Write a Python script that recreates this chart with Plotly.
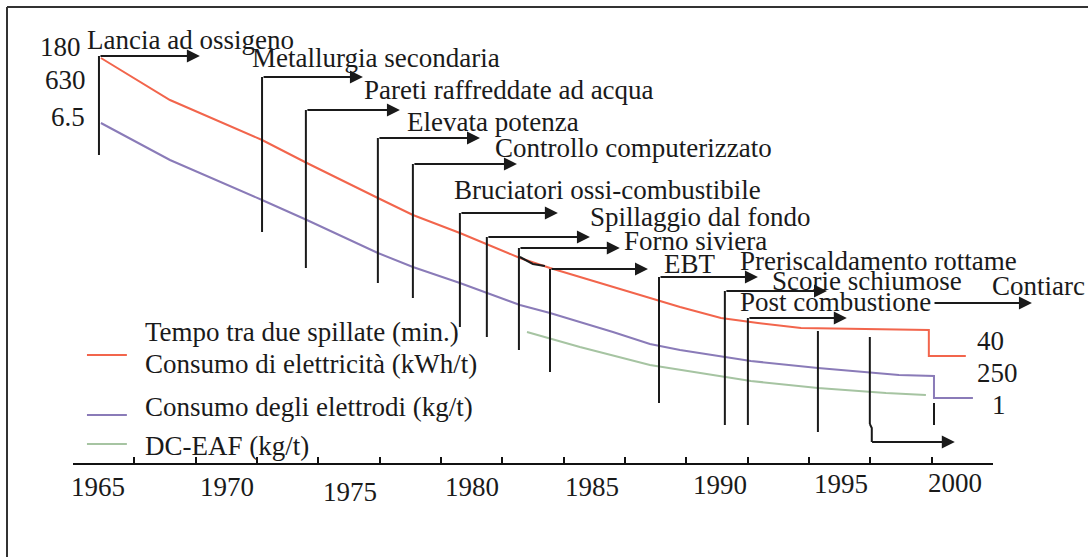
import plotly.graph_objects as go

# ---------------- DATA (y = relative index) ----------------
years_elec = [1965.12, 1967.94, 1971.70, 1973.53, 1976.43, 1977.86, 1979.78, 1982.23,
              1983.46, 1986.03, 1988.77, 1990.44, 1991.95, 1993.71, 1998.93, 1998.93, 2000.44]
elec_index = [101.5, 91.0, 81.0, 75.25, 66.5, 62.25, 57.75, 51.5,
              49.0, 44.25, 39.25, 36.5, 35.25, 34.0, 33.5, 27.0, 27.0]

years_electrode = [1965.12, 1967.94, 1971.70, 1973.53, 1976.43, 1977.86, 1979.78, 1982.23,
                   1983.46, 1986.03, 1987.54, 1988.77, 1991.66, 1994.40, 1997.71, 1999.14,
                   1999.14, 2000.73]
electrode_index = [85.25, 76.0, 66.0, 61.0, 52.75, 49.25, 45.25, 39.75,
                   37.75, 33.0, 30.0, 28.5, 25.75, 24.0, 22.25, 22.0,
                   16.5, 16.5]

years_dceaf = [1982.52, 1984.68, 1987.54, 1988.77, 1991.66, 1994.40, 1997.18, 1998.81]
dceaf_index = [33.0, 29.25, 24.75, 23.5, 20.75, 19.0, 17.75, 17.25]

milestone_names = ["Lancia ad ossigeno", "Metallurgia secondaria", "Pareti raffreddate ad acqua",
                   "Elevata potenza", "Controllo computerizzato", "Bruciatori ossi-combustibile",
                   "Spillaggio dal fondo", "Forno siviera", "EBT", "Preriscaldamento rottame",
                   "Scorie schiumose", "Post combustione"]
milestone_years = [1965.04, 1971.70, 1973.49, 1976.43, 1977.86, 1979.78,
                   1980.88, 1982.19, 1983.46, 1987.91, 1990.60, 1991.54]
milestone_arrow_end = [1969.16, 1975.82, 1977.33, 1980.60, 1982.11, 1983.78,
                       1985.09, 1986.31, 1987.46, 1991.95, 1994.77, 1995.58]

contiarc_name = "Contiarc"
contiarc_years = [1999.10, 2003.14]

extra_marker_years = [1994.40, 1996.52, 1999.14]

tick_label_years = [1965, 1970, 1975, 1980, 1985, 1990, 1995, 2000]
start_values = ["180", "630", "6.5"]
end_values = ["40", "250", "1"]
legend_texts = ["Tempo tra due spillate (min.)", "Consumo di elettricità (kWh/t)",
                "Consumo degli elettrodi (kg/t)", "DC-EAF (kg/t)"]

# ---------------- LAYOUT GEOMETRY (positions / styles) ----------------
FONT = "Liberation Serif"
FS = 27
INK = "#1a1a1a"
RED, PURPLE, GREEN = "#f2654c", "#8a7bb8", "#a6c4a2"

bracket_top = [102.0, 96.75, 88.5, 81.5, 75.0, 62.75, 56.75, 54.0, 48.75, 46.75, 43.25, 36.5]
bracket_bottom = [77.25, 58.0, 49.0, 45.25, 41.5, 34.25, 31.75, 28.5, 23.0, 15.25, 9.75, 9.75]
label_x = [1964.47, 1971.21, 1975.78, 1977.54, 1981.13, 1979.45,
           1985.01, 1986.40, 1988.03, 1991.13, 1992.44, 1991.13]
label_y = [106.0, 101.5, 93.5, 85.5, 79.0, 68.5, 61.75, 55.75, 50.0, 50.75, 45.75, 40.5]

extra_top = [33.25, 31.75, 15.25]
extra_bottom = [8.0, 10.0, 9.75]

tick_label_y = [-5.75, -5.75, -7.0, -5.75, -5.75, -5.25, -5.0, -4.75]
tick_label_xshift = [0, 7, 7, 7, 4, 10, 8, 0]

X_RANGE = [1963.98, 2001.55]
Y_RANGE = [-23.25, 116.0]

fig = go.Figure()

# series curves
fig.add_trace(go.Scatter(x=years_elec, y=elec_index, mode="lines",
                         line=dict(color=RED, width=2), hoverinfo="skip"))
fig.add_trace(go.Scatter(x=years_electrode, y=electrode_index, mode="lines",
                         line=dict(color=PURPLE, width=2), hoverinfo="skip"))
fig.add_trace(go.Scatter(x=years_dceaf, y=dceaf_index, mode="lines",
                         line=dict(color=GREEN, width=2), hoverinfo="skip"))

# milestone vertical stems
vx, vy = [], []
for yr, t, b in zip(milestone_years, bracket_top, bracket_bottom):
    vx += [yr, yr, None]
    vy += [b, t, None]
for yr, t, b in zip(extra_marker_years, extra_top, extra_bottom):
    vx += [yr, yr, None]
    vy += [b, t, None]
# small jog at the bottom of the 1996 stem
vx += [extra_marker_years[1], extra_marker_years[1] + 0.08, extra_marker_years[1] + 0.08, None]
vy += [extra_bottom[1], extra_bottom[1] - 1.0, 5.5, None]
# little leader near "Forno siviera"
vx += [1982.23, 1982.76, 1983.25]
vy += [51.75, 50.0, 49.5]
fig.add_trace(go.Scatter(x=vx, y=vy, mode="lines", line=dict(color=INK, width=2),
                         hoverinfo="skip"))

# legend swatches
sw_x = [1964.55, 1966.18]
for col, yy in zip([RED, PURPLE, GREEN], [27.25, 12.25, 5.0]):
    fig.add_trace(go.Scatter(x=sw_x, y=[yy, yy], mode="lines",
                             line=dict(color=col, width=2), hoverinfo="skip"))

ann = []

def arrow(x0, x1, y):
    ann.append(dict(x=x1, y=y, ax=x0, ay=y, xref="x", yref="y", axref="x", ayref="y",
                    text="", showarrow=True, arrowhead=2, arrowsize=1.3, arrowwidth=2,
                    arrowcolor=INK, standoff=0, startstandoff=0))

def label(x, y, txt, xanchor="left", size=FS, xshift=0):
    ann.append(dict(x=x, y=y, xref="x", yref="y", text=txt, showarrow=False,
                    xanchor=xanchor, yanchor="middle", xshift=xshift,
                    font=dict(family=FONT, size=size, color=INK)))

for name, yr, end, t, lx, ly in zip(milestone_names, milestone_years, milestone_arrow_end,
                                    bracket_top, label_x, label_y):
    arrow(yr, end, t)
    label(lx, ly, name)

arrow(contiarc_years[0], contiarc_years[1], 40.25)
label(2001.42, 44.5, contiarc_name)
arrow(1996.55, 1999.99, 5.5)

# start / end values
for txt, x, y in zip(start_values, [1964.39, 1964.59, 1964.55], [104.25, 96.0, 86.75]):
    label(x, y, txt, xanchor="right")
for txt, x, y in zip(end_values, [2000.81, 2000.81, 2001.42], [30.75, 22.75, 14.75]):
    label(x, y, txt)

# legend texts
for txt, y in zip(legend_texts, [33.0, 25.0, 14.25, 4.5]):
    label(1966.84, y, txt)

# year labels
for yr, y, xs in zip(tick_label_years, tick_label_y, tick_label_xshift):
    label(yr, y, str(yr), xanchor="center", xshift=xs)

W, H = 1088, 557
fig.update_layout(
    width=W, height=H, margin=dict(l=0, r=0, t=0, b=0),
    paper_bgcolor="white", plot_bgcolor="white", showlegend=False,
    annotations=ann,
    xaxis=dict(domain=[73 / W, 993 / W], range=X_RANGE, anchor="free",
               position=(H - 464) / H, showline=True, linecolor="#111", linewidth=2,
               ticks="inside", ticklen=6, tickwidth=2, tickcolor="#111",
               tickmode="linear", tick0=X_RANGE[0], dtick=(X_RANGE[1] - X_RANGE[0]) / 15,
               showticklabels=False, showgrid=False, zeroline=False, fixedrange=True),
    yaxis=dict(domain=[0, 1], range=Y_RANGE, visible=False, showgrid=False,
               zeroline=False, fixedrange=True),
    shapes=[
        dict(type="line", xref="paper", yref="paper", x0=7 / W, x1=7 / W, y0=0, y1=1 - 7 / H,
             line=dict(color="#333", width=2)),
        dict(type="line", xref="paper", yref="paper", x0=7 / W, x1=1, y0=1 - 7 / H, y1=1 - 7 / H,
             line=dict(color="#333", width=2)),
    ],
)

fig.write_html("out.html", config={"displayModeBar": False},
               post_script="document.body.style.margin='0';document.body.style.overflow='hidden';")
